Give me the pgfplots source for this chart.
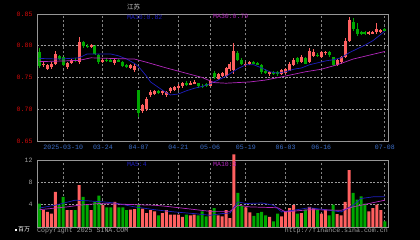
\documentclass[border=0pt]{standalone}
\usepackage{pgfplots}
\pgfplotsset{compat=1.18}
\usepackage{pgfplotstable}
\usepackage{fontspec}
\setmonofont{Liberation Mono}
\newfontfamily\cjk{Noto Sans CJK SC}
\definecolor{cred}{RGB}{255,96,96}
\definecolor{cgreen}{RGB}{0,168,0}
\definecolor{cblue}{RGB}{30,30,190}
\definecolor{cpurple}{RGB}{180,40,190}
\definecolor{cframe}{RGB}{150,150,150}
\definecolor{cgrid}{RGB}{130,130,130}
\definecolor{cdate}{RGB}{60,110,200}
\definecolor{cylab}{RGB}{210,10,10}
\definecolor{ctxt}{RGB}{160,160,160}

\pgfplotstableread{
j o h l c v
1 .770 .776 .766 .772 3.0
2 .764 .772 .762 .769 2.7
3 .766 .774 .764 .772 2.4
4 .772 .792 .770 .787 6.3
7 .766 .775 .764 .773 3.0
8 .773 .779 .771 .777 3.0
10 .774 .814 .772 .806 7.5
13 .799 .803 .797 .801 3.0
16 .775 .781 .773 .778 3.9
19 .773 .779 .770 .777 4.5
23 .765 .772 .763 .769 3.1
24 .762 .771 .759 .768 3.2
26 .697 .709 .694 .706 3.3
27 .700 .719 .698 .716 2.5
28 .723 .730 .720 .727 3.0
29 .724 .731 .722 .728 2.8
31 .725 .731 .723 .729 2.5
32 .722 .729 .719 .727 3.0
33 .728 .735 .726 .733 2.2
34 .730 .737 .729 .735 2.2
35 .733 .739 .731 .737 2.2
36 .736 .743 .734 .741 1.8
38 .739 .745 .738 .742 2.1
39 .740 .746 .739 .743 2.2
43 .737 .748 .736 .745 3.0
45 .748 .757 .746 .755 2.1
46 .753 .759 .751 .757 1.9
47 .752 .767 .750 .765 3.0
48 .763 .774 .761 .772 1.6
49 .762 .804 .756 .791 13.0
52 .769 .775 .767 .772 3.5
53 .771 .776 .769 .774 2.6
58 .755 .760 .753 .758 1.8
61 .755 .764 .754 .762 1.9
62 .757 .765 .755 .763 2.8
63 .761 .774 .760 .772 3.4
64 .770 .780 .768 .778 3.9
66 .775 .785 .773 .783 2.5
68 .775 .797 .773 .792 3.6
69 .784 .795 .782 .790 3.4
71 .782 .792 .780 .790 2.4
72 .789 .792 .786 .790 3.1
75 .770 .779 .768 .777 2.3
76 .774 .784 .772 .782 2.1
77 .783 .812 .781 .808 4.5
78 .808 .846 .806 .840 10.2
83 .818 .823 .817 .821 2.8
84 .819 .824 .818 .822 3.4
85 .821 .836 .819 .826 4.0
86 .822 .827 .820 .825 3.0
}\up

\pgfplotstableread{
j o h l c v
0 .790 .796 .765 .768 4.2
5 .784 .786 .778 .779 3.9
6 .782 .783 .768 .770 5.4
9 .778 .781 .774 .776 3.0
11 .806 .808 .797 .799 5.4
12 .800 .803 .797 .799 3.9
14 .800 .801 .786 .787 4.5
15 .786 .787 .772 .775 5.6
17 .778 .780 .775 .777 3.5
18 .777 .779 .774 .776 3.5
20 .777 .779 .774 .775 3.5
21 .775 .776 .766 .768 3.5
22 .769 .771 .765 .766 3.0
25 .730 .731 .688 .694 3.9
30 .728 .730 .724 .727 2.1
37 .742 .744 .737 .738 2.2
40 .741 .742 .734 .736 2.1
41 .737 .739 .733 .735 2.8
42 .739 .741 .735 .737 1.9
44 .757 .760 .748 .750 3.4
50 .789 .792 .776 .778 6.1
51 .778 .780 .770 .772 3.8
54 .774 .776 .771 .772 2.0
55 .773 .775 .770 .771 2.5
56 .770 .771 .756 .758 2.7
57 .761 .763 .755 .757 2.1
59 .758 .760 .754 .756 1.0
60 .758 .760 .753 .755 2.4
65 .780 .782 .772 .774 2.4
67 .781 .783 .771 .772 3.1
70 .786 .788 .782 .784 3.0
73 .790 .791 .782 .785 2.1
74 .782 .783 .768 .770 4.0
79 .838 .843 .824 .826 6.1
80 .827 .836 .816 .818 4.9
81 .821 .824 .817 .819 5.5
82 .821 .823 .817 .818 4.2
87 .826 .828 .821 .823 1.0
}\dn

\pgfplotstableread{
j m
0 .780
5 .779
10 .781
12 .787
18 .787
20 .784
22 .779
24 .772
25 .767
27 .752
28 .743
31 .730
33 .7225
35 .724
37 .729
39 .733
41 .736
43 .740
45 .746
47 .752
50 .764
52 .770
54 .770
56 .765
58 .759
60 .757
62 .759
64 .763
66 .765
68 .770
70 .773
72 .776
74 .778
76 .781
78 .789
80 .795
82 .801
84 .808
85 .813
87 .823
}\maten

\pgfplotstableread{
j m
0 .775
6 .776
10 .777
13 .781
18 .780
24 .779
27 .774
32 .765
35 .760
38 .755
41 .750
44 .742
47 .741
50 .742
53 .743
57 .746
61 .751
64 .755
67 .759
71 .763
75 .770
79 .779
83 .785
87 .791
}\mathirty

\pgfplotstableread{
j m
0 3.4
4 3.9
9 4.8
12 4.7
16 4.5
19 4.3
24 3.6
29 3.1
34 2.7
39 2.4
43 2.1
46 2.4
48 2.5
50 4.5
52 4.2
56 4.3
59 3.9
61 2.7
64 3.0
68 3.45
72 3.1
76 2.7
79 3.9
81 5.1
84 5.4
87 5.4
}\vmaA

\pgfplotstableread{
j m
0 3.1
7 3.6
10 3.9
15 4.2
20 4.1
24 4.0
29 3.9
32 3.7
37 3.3
43 2.8
48 2.8
50 3.9
53 3.6
60 3.45
62 2.7
68 3.1
76 3.0
79 3.6
85 4.5
87 4.8
}\vmaB

\pgfplotsset{
  kstyle/.style={
    scale only axis, width=351pt,
    xmin=-0.6, xmax=87.8,
    axis line style={cframe, line width=0.8pt},
    xtick={6,16,25,35,43,52,62,71,87},
    major tick length=0pt,
    tick label style={font=\ttfamily\fontsize{6.6}{7}\selectfont},
    xmajorgrids, ymajorgrids,
    major x grid style={cgrid, line width=1.1pt, dash pattern=on 2.2pt off 2.2pt},
    major y grid style={cgrid!80, line width=0.5pt, dash pattern=on 2pt off 1.5pt},
  },
  bodyup/.style={draw=none, mark=none, forget plot,
    error bars/.cd, y dir=both, y explicit, error mark=none,
    error bar style={draw=cred, line width=3pt}},
  bodydn/.style={draw=none, mark=none, forget plot,
    error bars/.cd, y dir=both, y explicit, error mark=none,
    error bar style={draw=cgreen, line width=3pt}},
  wickup/.style={draw=none, mark=none, forget plot,
    error bars/.cd, y dir=both, y explicit, error mark=none,
    error bar style={draw=cred, line width=0.9pt}},
  wickdn/.style={draw=none, mark=none, forget plot,
    error bars/.cd, y dir=both, y explicit, error mark=none,
    error bar style={draw=cgreen, line width=0.9pt}},
}

\begin{document}
\begin{tikzpicture}
\useasboundingbox (0,0) rectangle (420pt,240pt);
\fill[black] (0,0) rectangle (420pt,240pt);

\begin{axis}[kstyle, at={(37pt,99pt)}, anchor=south west, height=127pt,
  ymin=0.65, ymax=0.85,
  ytick={0.65,0.70,0.75,0.80,0.85},
  yticklabels={0.65,0.70,0.75,0.80,0.85},
  xticklabels={2025-03-10,03-24,04-07,04-21,05-06,05-19,06-03,06-16,07-08},
  xticklabel style={text=cdate, yshift=-0.5pt},
  yticklabel style={text=cylab, xshift=-1pt},
]
\addplot[wickup] table[x=j, y expr={(\thisrow{h}+\thisrow{l})/2}, y error expr={(\thisrow{h}-\thisrow{l})/2}] {\up};
\addplot[wickdn] table[x=j, y expr={(\thisrow{h}+\thisrow{l})/2}, y error expr={(\thisrow{h}-\thisrow{l})/2}] {\dn};
\addplot[bodyup] table[x=j, y expr={(\thisrow{o}+\thisrow{c})/2}, y error expr={max(abs(\thisrow{c}-\thisrow{o})/2,0.0007)}] {\up};
\addplot[bodydn] table[x=j, y expr={(\thisrow{o}+\thisrow{c})/2}, y error expr={max(abs(\thisrow{c}-\thisrow{o})/2,0.0007)}] {\dn};
\addplot[cblue, line width=0.7pt, mark=none] table[x=j, y=m] {\maten};
\addplot[cpurple, line width=0.7pt, mark=none] table[x=j, y=m] {\mathirty};
\end{axis}

\begin{axis}[kstyle, at={(37pt,13pt)}, anchor=south west, height=67pt,
  ymin=0, ymax=12, clip=false,
  ytick={4,8,12}, yticklabels={4,8,12},
  xticklabels={},
  yticklabel style={text=ctxt, xshift=-1pt},
]
\addplot[ybar, bar width=3pt, bar shift=0pt, fill=cred, draw=none] table[x=j, y=v] {\up};
\addplot[ybar, bar width=3pt, bar shift=0pt, fill=cgreen, draw=none] table[x=j, y=v] {\dn};
\addplot[cblue, line width=0.7pt, mark=none] table[x=j, y=m] {\vmaA};
\addplot[cpurple, line width=0.7pt, mark=none] table[x=j, y=m] {\vmaB};
\end{axis}

% texts
\node[anchor=west, inner sep=0pt, text=white!80!black, font=\cjk\fontsize{6.5}{7}\selectfont] at (127pt,233pt) {江苏};
\node[anchor=west, inner sep=0pt, text=cblue, font=\ttfamily\fontsize{6.5}{7}\selectfont] at (127pt,222.5pt) {MA10:0.82};
\node[anchor=west, inner sep=0pt, text=cpurple, font=\ttfamily\fontsize{6.5}{7}\selectfont] at (213pt,224pt) {MA30:0.79};
\node[anchor=west, inner sep=0pt, text=cblue, font=\ttfamily\fontsize{6.5}{7}\selectfont] at (127pt,76pt) {MA5:4};
\node[anchor=west, inner sep=0pt, text=cpurple, font=\ttfamily\fontsize{6.5}{7}\selectfont] at (213pt,76pt) {MA10:3};
\node[anchor=west, inner sep=0pt, text=ctxt, font=\ttfamily\fontsize{6.6}{7}\selectfont] at (37pt,9.5pt) {Copyright 2025 SINA.COM};
\node[anchor=east, inner sep=0pt, text=ctxt, font=\ttfamily\fontsize{6.6}{7}\selectfont] at (388pt,9.5pt) {http://finance.sina.com.cn};
\node[anchor=west, inner sep=0pt, text=white, font=\cjk\fontsize{6}{7}\selectfont] at (15pt,11pt) {\rule{2pt}{2pt}\,百万};
\end{tikzpicture}
\end{document}
